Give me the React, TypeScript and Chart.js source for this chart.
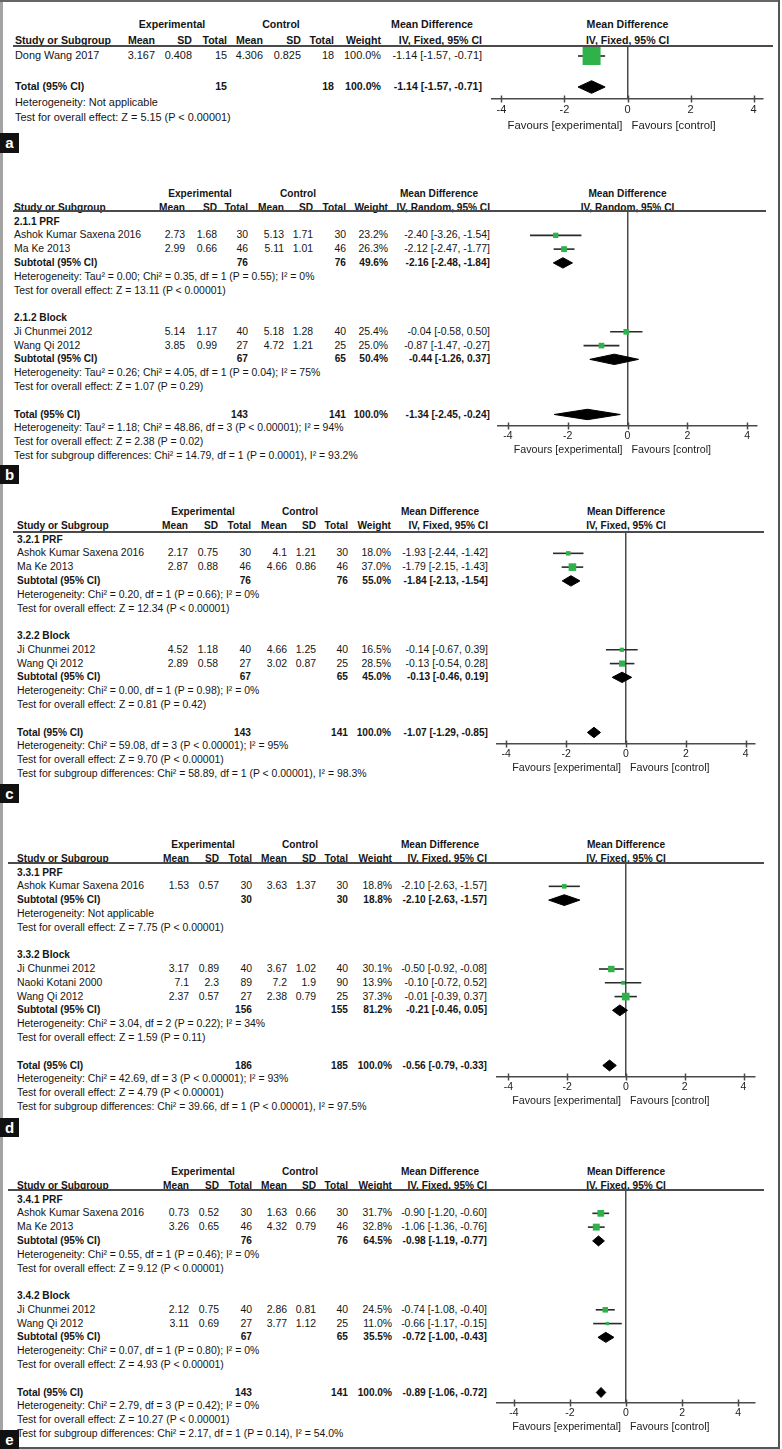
import React, { useEffect, useRef } from "react";
import { Chart, registerables } from "chart.js";

Chart.register(...registerables);

const FONT = '"Liberation Sans", Arial, Helvetica, sans-serif';
const GREEN = "#2fb24a";
const INK = "#151515";
const LINE = "#4a4a4a";
const WHISKER = "#2a2a2a";

// ---------- shared labels ----------
const X_TICKS = [-4, -2, 0, 2, 4];
const FAVOURS = ["Favours [experimental]", "Favours [control]"];
const GROUP_HEADS = ["Experimental", "Control", "Mean Difference"];
const COL_HEADS = ["Mean", "SD", "Total", "Mean", "SD", "Total", "Weight"];
const FIRST_HEAD = "Study or Subgroup";
const PLOT_HEAD = "Mean Difference";

// study tuple: [name, subgroup, expMean, expSD, expTotal, ctlMean, ctlSD, ctlTotal, weight %, MD, CI low, CI high]
// subtotal tuple: [expTotal, ctlTotal, weight %, MD, CI low, CI high]

// ---------- panel a ----------
const A_METHOD = "IV, Fixed, 95% CI";
const A_SUBGROUPS: string[] = [];
const A_STUDIES = [
  ["Dong Wang 2017", 0, 3.167, 0.408, 15, 4.306, 0.825, 18, 100.0, -1.14, -1.57, -0.71],
];
const A_SUBTOTALS: number[][] = [];
const A_SUB_NOTES: string[][] = [];
const A_TOTAL = [15, 18, 100.0, -1.14, -1.57, -0.71];
const A_TOTAL_NOTES = [
  "Heterogeneity: Not applicable",
  "Test for overall effect: Z = 5.15 (P < 0.00001)",
];

// ---------- panel b ----------
const B_METHOD = "IV, Random, 95% CI";
const B_SUBGROUPS = ["2.1.1 PRF", "2.1.2 Block"];
const B_STUDIES = [
  ["Ashok Kumar Saxena 2016", 0, 2.73, 1.68, 30, 5.13, 1.71, 30, 23.2, -2.4, -3.26, -1.54],
  ["Ma Ke 2013", 0, 2.99, 0.66, 46, 5.11, 1.01, 46, 26.3, -2.12, -2.47, -1.77],
  ["Ji Chunmei 2012", 1, 5.14, 1.17, 40, 5.18, 1.28, 40, 25.4, -0.04, -0.58, 0.5],
  ["Wang Qi 2012", 1, 3.85, 0.99, 27, 4.72, 1.21, 25, 25.0, -0.87, -1.47, -0.27],
];
const B_SUBTOTALS = [
  [76, 76, 49.6, -2.16, -2.48, -1.84],
  [67, 65, 50.4, -0.44, -1.26, 0.37],
];
const B_SUB_NOTES = [
  [
    "Heterogeneity: Tau² = 0.00; Chi² = 0.35, df = 1 (P = 0.55); I² = 0%",
    "Test for overall effect: Z = 13.11 (P < 0.00001)",
  ],
  [
    "Heterogeneity: Tau² = 0.26; Chi² = 4.05, df = 1 (P = 0.04); I² = 75%",
    "Test for overall effect: Z = 1.07 (P = 0.29)",
  ],
];
const B_TOTAL = [143, 141, 100.0, -1.34, -2.45, -0.24];
const B_TOTAL_NOTES = [
  "Heterogeneity: Tau² = 1.18; Chi² = 48.86, df = 3 (P < 0.00001); I² = 94%",
  "Test for overall effect: Z = 2.38 (P = 0.02)",
  "Test for subgroup differences: Chi² = 14.79, df = 1 (P = 0.0001), I² = 93.2%",
];

// ---------- panel c ----------
const C_METHOD = "IV, Fixed, 95% CI";
const C_SUBGROUPS = ["3.2.1 PRF", "3.2.2 Block"];
const C_STUDIES = [
  ["Ashok Kumar Saxena 2016", 0, 2.17, 0.75, 30, 4.1, 1.21, 30, 18.0, -1.93, -2.44, -1.42],
  ["Ma Ke 2013", 0, 2.87, 0.88, 46, 4.66, 0.86, 46, 37.0, -1.79, -2.15, -1.43],
  ["Ji Chunmei 2012", 1, 4.52, 1.18, 40, 4.66, 1.25, 40, 16.5, -0.14, -0.67, 0.39],
  ["Wang Qi 2012", 1, 2.89, 0.58, 27, 3.02, 0.87, 25, 28.5, -0.13, -0.54, 0.28],
];
const C_SUBTOTALS = [
  [76, 76, 55.0, -1.84, -2.13, -1.54],
  [67, 65, 45.0, -0.13, -0.46, 0.19],
];
const C_SUB_NOTES = [
  [
    "Heterogeneity: Chi² = 0.20, df = 1 (P = 0.66); I² = 0%",
    "Test for overall effect: Z = 12.34 (P < 0.00001)",
  ],
  [
    "Heterogeneity: Chi² = 0.00, df = 1 (P = 0.98); I² = 0%",
    "Test for overall effect: Z = 0.81 (P = 0.42)",
  ],
];
const C_TOTAL = [143, 141, 100.0, -1.07, -1.29, -0.85];
const C_TOTAL_NOTES = [
  "Heterogeneity: Chi² = 59.08, df = 3 (P < 0.00001); I² = 95%",
  "Test for overall effect: Z = 9.70 (P < 0.00001)",
  "Test for subgroup differences: Chi² = 58.89, df = 1 (P < 0.00001), I² = 98.3%",
];

// ---------- panel d ----------
const D_METHOD = "IV, Fixed, 95% CI";
const D_SUBGROUPS = ["3.3.1 PRF", "3.3.2 Block"];
const D_STUDIES = [
  ["Ashok Kumar Saxena 2016", 0, 1.53, 0.57, 30, 3.63, 1.37, 30, 18.8, -2.1, -2.63, -1.57],
  ["Ji Chunmei 2012", 1, 3.17, 0.89, 40, 3.67, 1.02, 40, 30.1, -0.5, -0.92, -0.08],
  ["Naoki Kotani 2000", 1, 7.1, 2.3, 89, 7.2, 1.9, 90, 13.9, -0.1, -0.72, 0.52],
  ["Wang Qi 2012", 1, 2.37, 0.57, 27, 2.38, 0.79, 25, 37.3, -0.01, -0.39, 0.37],
];
const D_SUBTOTALS = [
  [30, 30, 18.8, -2.1, -2.63, -1.57],
  [156, 155, 81.2, -0.21, -0.46, 0.05],
];
const D_SUB_NOTES = [
  ["Heterogeneity: Not applicable", "Test for overall effect: Z = 7.75 (P < 0.00001)"],
  [
    "Heterogeneity: Chi² = 3.04, df = 2 (P = 0.22); I² = 34%",
    "Test for overall effect: Z = 1.59 (P = 0.11)",
  ],
];
const D_TOTAL = [186, 185, 100.0, -0.56, -0.79, -0.33];
const D_TOTAL_NOTES = [
  "Heterogeneity: Chi² = 42.69, df = 3 (P < 0.00001); I² = 93%",
  "Test for overall effect: Z = 4.79 (P < 0.00001)",
  "Test for subgroup differences: Chi² = 39.66, df = 1 (P < 0.00001), I² = 97.5%",
];

// ---------- panel e ----------
const E_METHOD = "IV, Fixed, 95% CI";
const E_SUBGROUPS = ["3.4.1 PRF", "3.4.2 Block"];
const E_STUDIES = [
  ["Ashok Kumar Saxena 2016", 0, 0.73, 0.52, 30, 1.63, 0.66, 30, 31.7, -0.9, -1.2, -0.6],
  ["Ma Ke 2013", 0, 3.26, 0.65, 46, 4.32, 0.79, 46, 32.8, -1.06, -1.36, -0.76],
  ["Ji Chunmei 2012", 1, 2.12, 0.75, 40, 2.86, 0.81, 40, 24.5, -0.74, -1.08, -0.4],
  ["Wang Qi 2012", 1, 3.11, 0.69, 27, 3.77, 1.12, 25, 11.0, -0.66, -1.17, -0.15],
];
const E_SUBTOTALS = [
  [76, 76, 64.5, -0.98, -1.19, -0.77],
  [67, 65, 35.5, -0.72, -1.0, -0.43],
];
const E_SUB_NOTES = [
  [
    "Heterogeneity: Chi² = 0.55, df = 1 (P = 0.46); I² = 0%",
    "Test for overall effect: Z = 9.12 (P < 0.00001)",
  ],
  [
    "Heterogeneity: Chi² = 0.07, df = 1 (P = 0.80); I² = 0%",
    "Test for overall effect: Z = 4.93 (P < 0.00001)",
  ],
];
const E_TOTAL = [143, 141, 100.0, -0.89, -1.06, -0.72];
const E_TOTAL_NOTES = [
  "Heterogeneity: Chi² = 2.79, df = 3 (P = 0.42); I² = 0%",
  "Test for overall effect: Z = 10.27 (P < 0.00001)",
  "Test for subgroup differences: Chi² = 2.17, df = 1 (P = 0.14), I² = 54.0%",
];

const PANELS = [
  { method: A_METHOD, subgroups: A_SUBGROUPS, studies: A_STUDIES, subtotals: A_SUBTOTALS, subNotes: A_SUB_NOTES, total: A_TOTAL, totalNotes: A_TOTAL_NOTES },
  { method: B_METHOD, subgroups: B_SUBGROUPS, studies: B_STUDIES, subtotals: B_SUBTOTALS, subNotes: B_SUB_NOTES, total: B_TOTAL, totalNotes: B_TOTAL_NOTES },
  { method: C_METHOD, subgroups: C_SUBGROUPS, studies: C_STUDIES, subtotals: C_SUBTOTALS, subNotes: C_SUB_NOTES, total: C_TOTAL, totalNotes: C_TOTAL_NOTES },
  { method: D_METHOD, subgroups: D_SUBGROUPS, studies: D_STUDIES, subtotals: D_SUBTOTALS, subNotes: D_SUB_NOTES, total: D_TOTAL, totalNotes: D_TOTAL_NOTES },
  { method: E_METHOD, subgroups: E_SUBGROUPS, studies: E_STUDIES, subtotals: E_SUBTOTALS, subNotes: E_SUB_NOTES, total: E_TOTAL, totalNotes: E_TOTAL_NOTES },
];

// ---------- layout (positions only) ----------
const COLS_DE = [189, 219, 252, 287, 316, 348, 392, 487];
const LAYOUTS = [
  { label: "a", labelY: 133, labelH: 20, top0: 25, rowH: 15.5, headY: 46, axisY: 99, textX: 15, lineL: 13, lineR: 773, cols: [155, 192, 227, 263, 301, 334, 381, 482], groupC: [172, 281, 432], axL: 492, axR: 763, xMin: -4.3, xMax: 4.3, fs: 10.9, fsB: 10.6, favFs: 11.3, tickFs: 11, dh: 6.3 },
  { label: "b", labelY: 465, labelH: 19, top0: 194, rowH: 13.78, headY: 211, axisY: 426, textX: 14, lineL: 13, lineR: 766, cols: [185, 217, 248, 284, 313, 346, 388, 490], groupC: [200, 298, 439], axL: 498, axR: 757, xMin: -4.33, xMax: 4.33, fs: 10.45, fsB: 10.15, favFs: 10.7, tickFs: 10.5, dh: 5.2 },
  { label: "c", labelY: 784, labelH: 19, top0: 512, rowH: 13.78, headY: 532, axisY: 744, textX: 17, lineL: 13, lineR: 764, cols: [188, 218, 251, 287, 316, 348, 391, 488], groupC: [203, 300, 440], axL: 497, axR: 755, xMin: -4.31, xMax: 4.31, fs: 10.45, fsB: 10.15, favFs: 10.7, tickFs: 10.5, dh: 5.2 },
  { label: "d", labelY: 1118, labelH: 19, top0: 845, rowH: 13.78, headY: 863, axisY: 1077, textX: 17, lineL: 8, lineR: 764, cols: COLS_DE, groupC: [203, 300, 440], axL: 497, axR: 755, xMin: -4.39, xMax: 4.39, fs: 10.45, fsB: 10.15, favFs: 10.7, tickFs: 10.5, dh: 5.4 },
  { label: "e", labelY: 1430, labelH: 19, top0: 1172, rowH: 13.78, headY: 1190, axisY: 1403, textX: 17, lineL: 8, lineR: 764, cols: COLS_DE, groupC: [203, 300, 440], axL: 497, axR: 755, xMin: -4.6, xMax: 4.6, fs: 10.45, fsB: 10.15, favFs: 10.7, tickFs: 10.5, dh: 5.0 },
];

const AXIS_H = 22;
const PAD = 20;

const fmtCI = (md: number, lo: number, hi: number) =>
  `${md.toFixed(2)} [${lo.toFixed(2)}, ${hi.toFixed(2)}]`;
const fmtW = (w: number) => `${w.toFixed(1)}%`;

function buildRows(P: any) {
  const rows: any[] = [];
  if (P.subgroups.length === 0) {
    P.studies.forEach((s: any) => rows.push({ kind: "study", s }));
    rows.push({ kind: "blank" });
  } else {
    P.subgroups.forEach((g: string, gi: number) => {
      rows.push({ kind: "group", text: g });
      P.studies.filter((s: any) => s[1] === gi).forEach((s: any) => rows.push({ kind: "study", s }));
      rows.push({ kind: "subtotal", t: P.subtotals[gi] });
      P.subNotes[gi].forEach((n: string) => rows.push({ kind: "note", text: n }));
      rows.push({ kind: "blank" });
    });
  }
  rows.push({ kind: "total", t: P.total });
  P.totalNotes.forEach((n: string) => rows.push({ kind: "note", text: n }));
  return rows;
}

function Txt(props: any) {
  const { x, y, h, align = "left", bold = false, size, children, color = INK } = props;
  const w = 420;
  let left = x;
  if (align === "right") left = x - w;
  else if (align === "center") left = x - w / 2;
  return (
    <div
      style={{
        position: "absolute",
        left,
        top: y - h / 2,
        width: w,
        height: h,
        lineHeight: `${h}px`,
        textAlign: align,
        fontFamily: FONT,
        fontSize: size,
        fontWeight: bold ? 700 : 400,
        color,
        whiteSpace: "nowrap",
      }}
    >
      {children}
    </div>
  );
}

const crossTicks = {
  id: "crossTicks",
  afterDraw(chart: any) {
    const sx = chart.scales.x;
    const ctx = chart.ctx;
    const y = chart.chartArea.bottom;
    ctx.save();
    ctx.strokeStyle = LINE;
    ctx.lineWidth = 1.5;
    sx.ticks.forEach((t: any) => {
      const px = Math.round(sx.getPixelForValue(t.value)) + 0.5;
      ctx.beginPath();
      ctx.moveTo(px, y - 3.5);
      ctx.lineTo(px, y + 3.5);
      ctx.stroke();
    });
    ctx.restore();
  },
};

function Panel({ P, L }: any) {
  const ref = useRef<HTMLCanvasElement | null>(null);
  const rows = buildRows(P);
  const zeroPx = L.axL + ((0 - L.xMin) / (L.xMax - L.xMin)) * (L.axR - L.axL);
  const rowY = (i: number) => L.top0 + i * L.rowH;
  const canvasTop = Math.round(L.headY);
  const plotH = Math.round(L.axisY) - canvasTop;
  const canvasH = plotH + AXIS_H;
  const canvasLeft = L.axL - PAD;
  const canvasW = L.axR - L.axL + 2 * PAD;

  useEffect(() => {
    if (!ref.current) return;
    const yMin = (canvasTop - L.top0) / L.rowH;
    const yMax = (canvasTop + plotH - L.top0) / L.rowH;
    const dh = L.dh / L.rowH;
    const datasets: any[] = [];
    const studyRows = rows
      .map((r: any, k: number) => ({ r, i: k + 2 }))
      .filter((o: any) => o.r.kind === "study");
    datasets.push({
      label: "studies",
      data: studyRows.map((o: any) => ({ x: o.r.s[9], y: o.i })),
      pointStyle: "rect",
      pointRadius: studyRows.map((o: any) => (1.5 + 0.165 * o.r.s[8]) / Math.SQRT2),
      pointHoverRadius: studyRows.map((o: any) => (1.5 + 0.165 * o.r.s[8]) / Math.SQRT2),
      backgroundColor: GREEN,
      borderWidth: 0,
      order: 0,
    });
    studyRows.forEach((o: any) => {
      datasets.push({
        label: "ci",
        data: [
          { x: o.r.s[10], y: o.i },
          { x: o.r.s[11], y: o.i },
        ],
        showLine: true,
        borderColor: WHISKER,
        borderWidth: 1.6,
        pointRadius: 0,
        order: 2,
      });
    });
    rows.forEach((r: any, k: number) => {
      if (r.kind === "subtotal" || r.kind === "total") {
        const i = k + 2;
        const md = r.t[3];
        const lo = r.t[4];
        const hi = r.t[5];
        datasets.push({
          label: "diamond",
          data: [
            { x: lo, y: i },
            { x: md, y: i - dh },
            { x: hi, y: i },
            { x: md, y: i + dh },
            { x: lo, y: i },
          ],
          showLine: true,
          fill: "shape",
          backgroundColor: "#000",
          borderColor: "#000",
          borderWidth: 1,
          pointRadius: 0,
          tension: 0,
          order: 1,
        });
      }
    });

    const chart = new Chart(ref.current, {
      type: "scatter",
      data: { datasets },
      options: {
        animation: false,
        responsive: false,
        maintainAspectRatio: false,
        devicePixelRatio: 1,
        events: [],
        layout: { autoPadding: false, padding: { left: PAD, right: PAD, top: 0, bottom: 0 } },
        plugins: {
          legend: { display: false },
          tooltip: { enabled: false },
          title: { display: false },
        },
        scales: {
          x: {
            type: "linear",
            position: "bottom",
            min: L.xMin,
            max: L.xMax,
            afterBuildTicks: (ax: any) => {
              ax.ticks = X_TICKS.map((v) => ({ value: v }));
            },
            afterFit: (ax: any) => {
              ax.height = AXIS_H;
            },
            grid: {
              drawTicks: false,
              lineWidth: 1.5,
              color: (c: any) => (c.tick && c.tick.value === 0 ? LINE : "rgba(0,0,0,0)"),
            },
            border: { display: true, color: LINE, width: 1.5 },
            ticks: {
              padding: 4,
              color: "#222",
              font: { family: FONT, size: L.tickFs },
              callback: (v: any) => String(v),
            },
          },
          y: {
            type: "linear",
            display: false,
            min: yMin,
            max: yMax,
            reverse: true,
          },
        },
      },
      plugins: [crossTicks],
    } as any);
    return () => chart.destroy();
  }, []);

  const h = L.rowH;
  const items: any[] = [];
  // header rows
  items.push(<Txt key="g0" x={L.groupC[0]} y={rowY(0)} h={h} align="center" bold size={L.fsB}>{GROUP_HEADS[0]}</Txt>);
  items.push(<Txt key="g1" x={L.groupC[1]} y={rowY(0)} h={h} align="center" bold size={L.fsB}>{GROUP_HEADS[1]}</Txt>);
  items.push(<Txt key="g2" x={L.groupC[2]} y={rowY(0)} h={h} align="center" bold size={L.fsB}>{GROUP_HEADS[2]}</Txt>);
  items.push(<Txt key="ph0" x={zeroPx} y={rowY(0)} h={h} align="center" bold size={L.fsB}>{PLOT_HEAD}</Txt>);
  items.push(<Txt key="h0" x={L.textX} y={rowY(1)} h={h} bold size={L.fsB}>{FIRST_HEAD}</Txt>);
  COL_HEADS.forEach((c, ci) =>
    items.push(<Txt key={"hc" + ci} x={L.cols[ci]} y={rowY(1)} h={h} align="right" bold size={L.fsB}>{c}</Txt>)
  );
  items.push(<Txt key="hm" x={L.cols[7]} y={rowY(1)} h={h} align="right" bold size={L.fsB}>{P.method}</Txt>);
  items.push(<Txt key="ph1" x={zeroPx} y={rowY(1)} h={h} align="center" bold size={L.fsB}>{P.method}</Txt>);

  rows.forEach((r: any, k: number) => {
    const y = rowY(k + 2);
    const key = "r" + k;
    if (r.kind === "study") {
      const s = r.s;
      items.push(<Txt key={key + "n"} x={L.textX} y={y} h={h} size={L.fs}>{s[0]}</Txt>);
      [s[2], s[3], s[4], s[5], s[6], s[7]].forEach((v: number, ci: number) =>
        items.push(<Txt key={key + "c" + ci} x={L.cols[ci]} y={y} h={h} align="right" size={L.fs}>{String(v)}</Txt>)
      );
      items.push(<Txt key={key + "w"} x={L.cols[6]} y={y} h={h} align="right" size={L.fs}>{fmtW(s[8])}</Txt>);
      items.push(<Txt key={key + "ci"} x={L.cols[7]} y={y} h={h} align="right" size={L.fs}>{fmtCI(s[9], s[10], s[11])}</Txt>);
    } else if (r.kind === "subtotal" || r.kind === "total") {
      const t = r.t;
      const name = r.kind === "subtotal" ? "Subtotal (95% CI)" : "Total (95% CI)";
      items.push(<Txt key={key + "n"} x={L.textX} y={y} h={h} bold size={L.fsB}>{name}</Txt>);
      items.push(<Txt key={key + "e"} x={L.cols[2]} y={y} h={h} align="right" bold size={L.fsB}>{String(t[0])}</Txt>);
      items.push(<Txt key={key + "c"} x={L.cols[5]} y={y} h={h} align="right" bold size={L.fsB}>{String(t[1])}</Txt>);
      items.push(<Txt key={key + "w"} x={L.cols[6]} y={y} h={h} align="right" bold size={L.fsB}>{fmtW(t[2])}</Txt>);
      items.push(<Txt key={key + "ci"} x={L.cols[7]} y={y} h={h} align="right" bold size={L.fsB}>{fmtCI(t[3], t[4], t[5])}</Txt>);
    } else if (r.kind === "group") {
      items.push(<Txt key={key} x={L.textX} y={y} h={h} bold size={L.fsB}>{r.text}</Txt>);
    } else if (r.kind === "note") {
      items.push(<Txt key={key} x={L.textX} y={y} h={h} size={L.fs}>{r.text}</Txt>);
    }
  });

  const favY = L.axisY + (L.label === "a" ? 26 : 23);

  return (
    <>
      {items}
      <div
        style={{
          position: "absolute",
          left: L.lineL,
          top: L.headY - 0.75,
          width: L.lineR - L.lineL,
          height: 1.5,
          background: LINE,
        }}
      />
      <canvas
        ref={ref}
        width={canvasW}
        height={canvasH}
        style={{ position: "absolute", left: canvasLeft, top: canvasTop, width: canvasW, height: canvasH }}
      />
      <Txt x={zeroPx - 5} y={favY} h={14} align="right" size={L.favFs} color="#222">{FAVOURS[0]}</Txt>
      <Txt x={zeroPx + 4} y={favY} h={14} size={L.favFs} color="#222">{FAVOURS[1]}</Txt>
      <div
        style={{
          position: "absolute",
          left: 0,
          top: L.labelY,
          width: 19,
          height: L.labelH,
          background: "#111",
          color: "#fff",
          fontFamily: FONT,
          fontWeight: 700,
          fontSize: 15,
          lineHeight: `${L.labelH}px`,
          textAlign: "center",
        }}
      >
        {L.label}
      </div>
    </>
  );
}

export default function App() {
  return (
    <div
      style={{
        position: "absolute",
        left: 0,
        top: 0,
        width: 782,
        height: 1449,
        background: "#fff",
        overflow: "hidden",
      }}
    >
      <div style={{ position: "absolute", left: 0, top: 0, width: 3, height: 1449, background: "#a3a3a3" }} />
      <div style={{ position: "absolute", left: 0, top: 0, width: 780, height: 1.5, background: "#666" }} />
      <div style={{ position: "absolute", left: 778, top: 0, width: 1.5, height: 1449, background: "#555" }} />
      <div style={{ position: "absolute", left: 0, top: 1447, width: 780, height: 1.5, background: "#555" }} />
      {PANELS.map((P, i) => (
        <Panel key={i} P={P} L={LAYOUTS[i]} />
      ))}
    </div>
  );
}
